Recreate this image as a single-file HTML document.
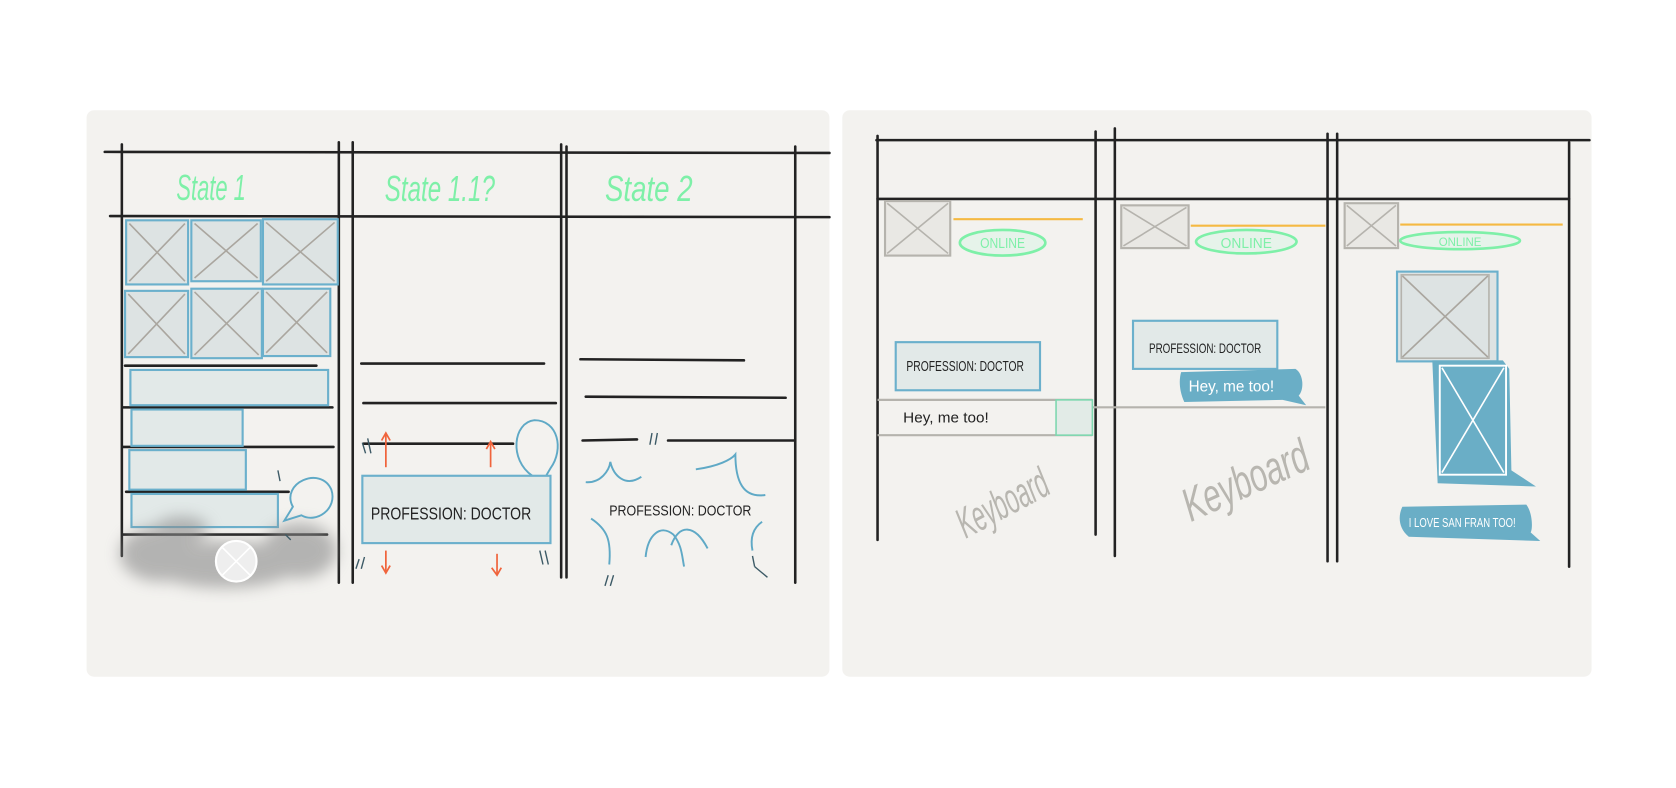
<!DOCTYPE html>
<html><head><meta charset="utf-8"><style>
html,body{margin:0;padding:0;background:#fff;width:1676px;height:788px;overflow:hidden}
svg{display:block}
text{font-family:"Liberation Sans Narrow","Liberation Sans",sans-serif}
</style></head><body>
<svg width="1676" height="788" viewBox="0 0 1568 737" xmlns="http://www.w3.org/2000/svg">
<defs>
<filter id="bl" x="-20%" y="-20%" width="140%" height="140%"><feGaussianBlur stdDeviation="7"/></filter>
</defs>
<rect x="0" y="0" width="1568" height="737" fill="#fff"/>
<rect x="81" y="103" width="695" height="530" rx="7" fill="#f3f2ef"/>
<rect x="788" y="103" width="701" height="530" rx="7" fill="#f3f2ef"/>

<!-- LEFT PANEL -->
<g stroke="#222" stroke-width="2.4" fill="none" stroke-linecap="round">
<line x1="98" y1="142" x2="776" y2="143"/>
<line x1="103" y1="202" x2="776" y2="203"/>
<line x1="114" y1="135" x2="114" y2="520"/>
<line x1="317" y1="133" x2="317" y2="545"/>
<line x1="330" y1="133" x2="330" y2="545"/>
<line x1="525" y1="135" x2="525" y2="540"/>
<line x1="530" y1="137" x2="530" y2="540"/>
<line x1="744" y1="137" x2="744" y2="545"/>
<line x1="117" y1="342" x2="296" y2="342"/>
<line x1="115" y1="381" x2="311" y2="381"/>
<line x1="115" y1="418" x2="312" y2="418"/>
<line x1="118" y1="460" x2="270" y2="460"/>
<line x1="115" y1="500" x2="306" y2="500"/>
<line x1="338" y1="340" x2="509" y2="340"/>
<line x1="340" y1="377" x2="520" y2="377"/>
<line x1="340" y1="415" x2="480" y2="415"/>
<line x1="543" y1="336" x2="696" y2="337"/>
<line x1="548" y1="371" x2="735" y2="372"/>
<line x1="545" y1="412" x2="596" y2="411"/>
<line x1="625" y1="412" x2="744" y2="412"/>
</g>
<g font-size="34" fill="#7ef0a8" font-style="italic">
<text x="165" y="187" textLength="65" lengthAdjust="spacingAndGlyphs">State 1</text>
<text x="360" y="188" textLength="103" lengthAdjust="spacingAndGlyphs">State 1.1?</text>
<text x="566" y="188" textLength="82" lengthAdjust="spacingAndGlyphs">State 2</text>
</g>
<!-- image grid -->
<g fill="#dde3e3" stroke="#6bb0cc" stroke-width="2">
<rect x="118" y="206" width="58" height="60"/>
<rect x="179" y="206" width="65" height="57"/>
<rect x="246" y="205" width="70" height="61"/>
<rect x="117" y="272" width="59" height="62"/>
<rect x="179" y="270" width="66" height="65"/>
<rect x="246" y="270" width="63" height="63"/>
</g>
<g stroke="#aaa69f" stroke-width="1.5">
<line x1="121" y1="209" x2="173" y2="263"/><line x1="173" y1="209" x2="121" y2="263"/>
<line x1="182" y1="209" x2="241" y2="260"/><line x1="241" y1="209" x2="182" y2="260"/>
<line x1="249" y1="208" x2="313" y2="263"/><line x1="313" y1="208" x2="249" y2="263"/>
<line x1="120" y1="275" x2="173" y2="331"/><line x1="173" y1="275" x2="120" y2="331"/>
<line x1="182" y1="273" x2="242" y2="332"/><line x1="242" y1="273" x2="182" y2="332"/>
<line x1="249" y1="273" x2="306" y2="330"/><line x1="306" y1="273" x2="249" y2="330"/>
</g>
<g fill="#e2e9e8" stroke="#6bb0cc" stroke-width="2">
<rect x="122" y="346" width="185" height="33"/>
<rect x="123" y="383" width="104" height="34"/>
<rect x="121" y="421" width="109" height="37"/>
<rect x="123" y="462" width="137" height="31"/>
</g>
<g filter="url(#bl)" fill="#8a8a8a" opacity="0.6">
<ellipse cx="150" cy="518" rx="38" ry="26"/>
<ellipse cx="280" cy="515" rx="35" ry="26"/>
<ellipse cx="210" cy="528" rx="70" ry="22"/>
<ellipse cx="170" cy="495" rx="25" ry="12"/>
</g>
<circle cx="221" cy="525" r="19" fill="#eee" stroke="#fff" stroke-width="2"/>
<line x1="208" y1="512" x2="234" y2="538" stroke="#fff" stroke-width="1.5"/><line x1="234" y1="512" x2="208" y2="538" stroke="#fff" stroke-width="1.5"/>
<g fill="none" stroke="#5fa9c6" stroke-width="1.8">
<path d="M274 474 C262 452 300 435 310 458 C316 476 296 490 282 482 L266 487 Z"/>
<path d="M498 445 C476 430 480 395 500 393 C522 393 528 420 515 438 L508 450 Z"/>
</g>
<rect x="339" y="445" width="176" height="63" fill="#e2e9e8" stroke="#6bb0cc" stroke-width="2"/>
<text x="347" y="486" font-size="16" fill="#222" textLength="150" lengthAdjust="spacingAndGlyphs">PROFESSION: DOCTOR</text>
<text x="570" y="482" font-size="14" fill="#222" textLength="133" lengthAdjust="spacingAndGlyphs">PROFESSION: DOCTOR</text>
<g stroke="#f0643c" stroke-width="1.6" fill="none">
<line x1="361" y1="406" x2="361" y2="437"/><path d="M357 412 L361 405 L365 412"/>
<line x1="459" y1="414" x2="459" y2="437"/><path d="M455 420 L459 413 L463 420"/>
<line x1="361" y1="515" x2="361" y2="535"/><path d="M357 529 L361 536 L365 529"/>
<line x1="465" y1="518" x2="465" y2="537"/><path d="M460 531 L465 538 L469 531"/>
</g>
<g stroke="#5fa9c6" stroke-width="1.8" fill="none">
<path d="M548 451 C562 452 570 440 571 432 C574 445 585 456 600 446"/>
<path d="M651 439 C672 436 684 430 688 425 C688 450 695 466 716 463"/>
<path d="M553 485 C568 495 572 505 570 528"/>
<path d="M604 521 C606 500 618 490 630 500 C638 510 638 520 640 530"/>
<path d="M628 510 C635 490 650 490 662 513"/>
<path d="M713 488 C703 495 702 505 704 515"/>
</g>
<g stroke="#3c5a66" stroke-width="1.3">
<line x1="339" y1="414" x2="342" y2="424"/><line x1="344" y1="410" x2="347" y2="424"/>
<line x1="336" y1="523" x2="333" y2="532"/><line x1="341" y1="521" x2="338" y2="532"/>
<line x1="505" y1="515" x2="508" y2="528"/><line x1="510" y1="515" x2="513" y2="528"/>
<line x1="610" y1="405" x2="608" y2="416"/><line x1="615" y1="405" x2="613" y2="416"/>
<line x1="566" y1="548" x2="569" y2="538"/><line x1="571" y1="548" x2="574" y2="538"/>
<line x1="706" y1="530" x2="718" y2="540"/><line x1="704" y1="520" x2="706" y2="530"/>
<line x1="260" y1="440" x2="262" y2="450"/><line x1="267" y1="500" x2="272" y2="505"/>
</g>

<!-- RIGHT PANEL -->
<g stroke="#222" stroke-width="2.4" fill="none" stroke-linecap="round">
<line x1="820" y1="131" x2="1487" y2="131"/>
<line x1="821" y1="186" x2="1468" y2="186"/>
<line x1="821" y1="127" x2="821" y2="505"/>
<line x1="1025" y1="123" x2="1025" y2="500"/>
<line x1="1043" y1="120" x2="1043" y2="520"/>
<line x1="1242" y1="125" x2="1242" y2="525"/>
<line x1="1251" y1="125" x2="1251" y2="525"/>
<line x1="1468" y1="133" x2="1468" y2="530"/>
</g>
<g fill="#e9e8e4" stroke="#b5b3ad" stroke-width="2">
<rect x="828" y="188" width="61" height="51"/>
<rect x="1049" y="192" width="63" height="40"/>
<rect x="1258" y="190" width="50" height="42"/>
</g>
<g stroke="#b5b3ad" stroke-width="1.5">
<line x1="830" y1="190" x2="887" y2="237"/><line x1="887" y1="190" x2="830" y2="237"/>
<line x1="1051" y1="194" x2="1110" y2="230"/><line x1="1110" y1="194" x2="1051" y2="230"/>
<line x1="1260" y1="192" x2="1306" y2="230"/><line x1="1306" y1="192" x2="1260" y2="230"/>
</g>
<g stroke="#f5b942" stroke-width="2">
<line x1="892" y1="205" x2="1013" y2="205"/>
<line x1="1114" y1="211" x2="1240" y2="211"/>
<line x1="1310" y1="210" x2="1462" y2="210"/>
</g>
<g fill="#e6f3ea" stroke="#7ef0a8" stroke-width="2.5">
<ellipse cx="938" cy="227" rx="40" ry="12"/>
<ellipse cx="1166" cy="226" rx="47" ry="11"/>
<ellipse cx="1366" cy="225" rx="56" ry="8"/>
</g>
<g fill="#7ef0a8" font-size="14">
<text x="938" y="232" text-anchor="middle" textLength="42" lengthAdjust="spacingAndGlyphs">ONLINE</text>
<text x="1166" y="232" text-anchor="middle" textLength="48" lengthAdjust="spacingAndGlyphs">ONLINE</text>
<text x="1366" y="230" text-anchor="middle" font-size="11" textLength="40" lengthAdjust="spacingAndGlyphs">ONLINE</text>
</g>
<g fill="#e2e9e8" stroke="#6bb0cc" stroke-width="2">
<rect x="838" y="320" width="135" height="45"/>
<rect x="1060" y="300" width="135" height="45"/>
</g>
<text x="848" y="347" font-size="14" fill="#222" textLength="110" lengthAdjust="spacingAndGlyphs">PROFESSION: DOCTOR</text>
<text x="1075" y="330" font-size="13" fill="#222" textLength="105" lengthAdjust="spacingAndGlyphs">PROFESSION: DOCTOR</text>
<path d="M1105 348 L1212 345 C1220 350 1220 365 1215 370 L1222 379 L1200 374 L1108 376 C1103 365 1103 355 1105 348 Z" fill="#6aaec6"/>
<text x="1112" y="366" font-size="15" fill="#fff" textLength="80" lengthAdjust="spacingAndGlyphs">Hey, me too!</text>
<g stroke="#b5b3ad" stroke-width="2">
<line x1="821" y1="374" x2="1022" y2="374"/>
<line x1="821" y1="407" x2="1022" y2="407"/>
<line x1="1022" y1="381" x2="1240" y2="381"/>
</g>
<rect x="988" y="374" width="34" height="33" fill="#e2ebe7" stroke="#7fd8b0" stroke-width="1.5"/>
<text x="845" y="395" font-size="14" fill="#222" textLength="80" lengthAdjust="spacingAndGlyphs">Hey, me too!</text>
<text x="890" y="490" font-size="40" fill="#b8b6b0" font-style="italic" transform="rotate(-28 925 470)" textLength="92" lengthAdjust="spacingAndGlyphs">Keyboard</text>
<text x="1100" y="468" font-size="44" fill="#b8b6b0" font-style="italic" transform="rotate(-24 1155 445)" textLength="125" lengthAdjust="spacingAndGlyphs">Keyboard</text>
<rect x="1307" y="254" width="94" height="84" fill="#dde3e3" stroke="#6bb0cc" stroke-width="2"/>
<rect x="1311" y="257" width="82" height="78" fill="none" stroke="#b5b3ad" stroke-width="1.5"/>
<line x1="1312" y1="258" x2="1392" y2="334" stroke="#aaa69f" stroke-width="1.5"/><line x1="1392" y1="258" x2="1312" y2="334" stroke="#aaa69f" stroke-width="1.5"/>
<path d="M1340 337 L1406 337 L1412 345 L1414 440 L1437 455 L1345 452 Z" fill="#6aaec6"/>
<rect x="1347" y="342" width="62" height="102" fill="none" stroke="#fff" stroke-width="1.8"/>
<line x1="1349" y1="344" x2="1407" y2="442" stroke="#fff" stroke-width="1.5"/><line x1="1407" y1="344" x2="1349" y2="442" stroke="#fff" stroke-width="1.5"/>
<path d="M1312 474 L1428 472 C1434 480 1434 495 1432 498 L1441 506 L1318 502 C1308 494 1308 482 1312 474 Z" fill="#6aaec6"/>
<text x="1318" y="493" font-size="12" fill="#fff" textLength="100" lengthAdjust="spacingAndGlyphs">I LOVE SAN FRAN TOO!</text>
</svg>
</body></html>
